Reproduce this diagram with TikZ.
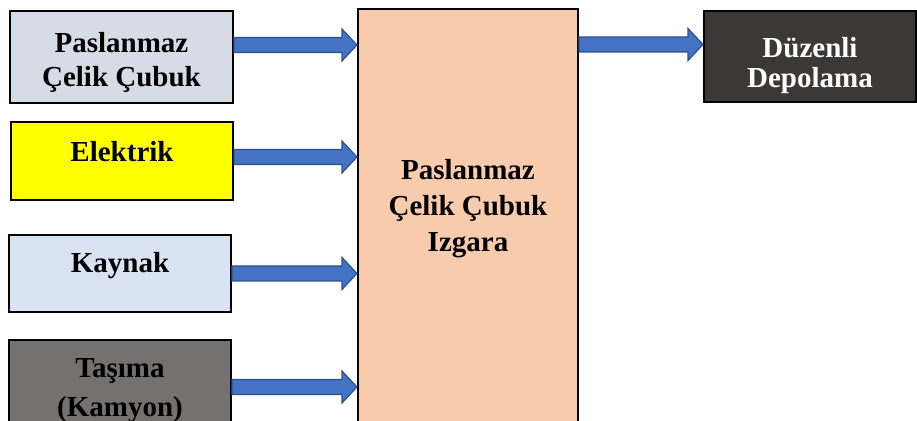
\documentclass[tikz,border=0pt]{standalone}
\usepackage{fontspec}
\setmainfont{Liberation Serif}
\usetikzlibrary{calc}

\definecolor{steelgray}{HTML}{D6DCE5}
\definecolor{poweryellow}{HTML}{FFFF00}
\definecolor{weldblue}{HTML}{DAE3F3}
\definecolor{truckgray}{HTML}{767171}
\definecolor{gridpeach}{HTML}{F8CBAD}
\definecolor{storedark}{HTML}{3B3838}
\definecolor{flowblue}{HTML}{4472C4}
\definecolor{flowedge}{HTML}{2F528F}

\begin{document}
\begin{tikzpicture}
    [x=0.5pt,y=-0.5pt,inner sep=0pt,
     box/.style={rectangle,draw,line width=1pt},
     boxtext/.style={anchor=north,align=center,
       font=\fontsize{14.5}{#1}\selectfont\bfseries},
     flow/.style={fill=flowblue,draw=flowedge,line width=0.6pt,
       to path={let \p1=(\tikztostart), \p2=(\tikztotarget) in
         (\x1,\y1+3.75pt) -- (\x2-7.5pt,\y1+3.75pt) -- (\x2-7.5pt,\y1+8pt)
         -- (\x2,\y1) -- (\x2-7.5pt,\y1-8pt) -- (\x2-7.5pt,\y1-3.75pt)
         -- (\x1,\y1-3.75pt) -- cycle}}]

    \useasboundingbox (0,0) rectangle (917,421);
    \clip (0,0) rectangle (917,421);

    % inputs on the left:
    \node (steel) at (121.5,57) [box,fill=steelgray,minimum width=111.5pt,minimum height=46pt] {};
    \node (power) at (122,161) [box,fill=poweryellow,minimum width=111pt,minimum height=39pt] {};
    \node (weld) at (120,273.5) [box,fill=weldblue,minimum width=111pt,minimum height=38.5pt] {};
    \node (truck) at (120,390) [box,fill=truckgray,minimum width=111pt,minimum height=50pt] {};

    \node (steeltext) at (121.5,32) [boxtext=17pt] {Paslanmaz\\Çelik Çubuk};
    \node (powertext) at (122,141) [boxtext=17pt] {Elektrik};
    \node (weldtext) at (120,252) [boxtext=17pt] {Kaynak};
    \node (trucktext) at (120,358) [boxtext=19.5pt] {Taşıma\\(Kamyon)};

    % the grid in the middle, runs off the bottom:
    \node (grid) at (468,234.5) [box,fill=gridpeach,minimum width=110pt,minimum height=225.5pt] {};
    \node (gridtext) at (468,159) [boxtext=18pt] {Paslanmaz\\Çelik Çubuk\\Izgara};

    % output:
    \node (store) at (810,56.5) [box,fill=storedark,minimum width=106pt,minimum height=45.5pt] {};
    \node (storetext) at (810,37) [boxtext=15pt,text=white] {Düzenli\\Depolama};

    % connect nodes:
    \draw [flow] ([yshift=6pt]steel.east) to ([yshift=6pt]steel.east -| grid.west);
    \draw [flow] ([yshift=2pt]power.east) to ([yshift=2pt]power.east -| grid.west);
    \draw [flow] (weld.east) to (weld.east -| grid.west);
    \draw [flow] ([yshift=1.5pt]truck.east) to ([yshift=1.5pt]truck.east -| grid.west);
    \draw [flow] ([yshift=6pt]store.west -| grid.east) to ([yshift=6pt]store.west);

  \end{tikzpicture}
\end{document}
